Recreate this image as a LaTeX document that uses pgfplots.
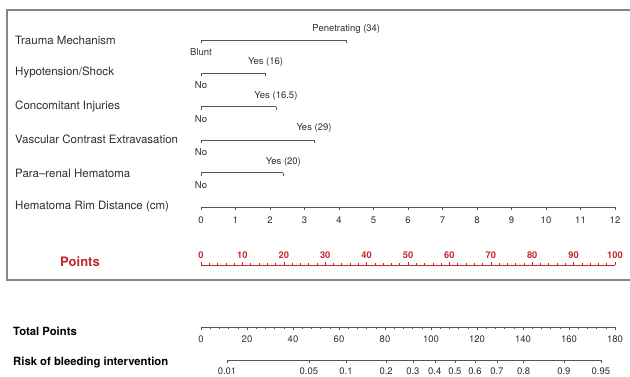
\documentclass[border=0pt]{standalone}
\usepackage{fontspec}
\setmainfont{TeX Gyre Heros}
\usepackage{pgfplots}
\pgfplotsset{compat=1.18}
\definecolor{txt}{HTML}{2E2E2E}
\definecolor{ln}{HTML}{555555}
\definecolor{ptred}{HTML}{C0282D}
\definecolor{boxc}{HTML}{858585}

\pgfdeclareplotmark{dtick}{\pgfpathmoveto{\pgfqpoint{0pt}{0pt}}\pgfpathlineto{\pgfqpoint{0pt}{-3pt}}\pgfusepathqstroke}

\pgfplotsset{
  nomo/.style={scale only axis, height=10pt, ymin=0, ymax=1,
    axis y line=none,
    tick style={draw=ln, line width=0.6pt},
    major tick length=3pt, minor tick length=2pt, clip=false,
    /pgf/number format/assume math mode=true,
    tick label style={font=\fontsize{9.5}{11}\selectfont, text=txt},
    scaled x ticks=false},
  noarrow/.style={x axis line style={-, draw=#1, line width=0.7pt},
    every outer x axis line/.append style={-},
    every inner x axis line/.append style={-}},
}
\tikzset{smalllab/.style={font=\fontsize{9.5}{11}\selectfont, text=txt}}

\begin{document}
\begin{tikzpicture}
\useasboundingbox (0,0) rectangle (630pt,376pt);
\draw[boxc, line width=1.5pt] (7pt,366pt) rectangle (640pt,96pt);

% row labels
\begin{scope}[every node/.style={anchor=west, inner sep=0pt, font=\fontsize{11.5}{13}\selectfont, text=txt}]
\node at (15pt,336pt) {Trauma Mechanism};
\node at (15pt,303.5pt) {Hypotension/Shock};
\node at (15pt,269.5pt) {Concomitant Injuries};
\node at (15pt,236.5pt) {Vascular Contrast Extravasation};
\node at (15pt,202.5pt) {Para--renal Hematoma};
\node at (15pt,169pt) {Hematoma Rim Distance (cm)};
\end{scope}
\node[font=\bfseries\fontsize{13}{15}\selectfont, text=ptred] at (80pt,114pt) {Points};
\node[anchor=west, inner sep=0pt, font=\bfseries\fontsize{11.3}{13}\selectfont, text=black] at (13pt,45pt) {Total Points};
\node[anchor=west, inner sep=0pt, font=\bfseries\fontsize{11.3}{13}\selectfont, text=black] at (13pt,13pt) {Risk of bleeding intervention};

% categorical predictors (x in points, y in pixel rows)
\begin{axis}[scale only axis, width=414pt, height=376pt, at={(201pt,0pt)}, anchor=south west,
  xmin=0, xmax=100, ymin=0, ymax=376, y dir=reverse, hide axis, clip=false]
\addplot[ln, line width=0.7pt, mark=dtick, mark options={solid, line width=0.6pt}] coordinates {(0,40) (35.1,40)};
\addplot[ln, line width=0.7pt, mark=dtick, mark options={solid, line width=0.6pt}] coordinates {(0,73) (15.6,73)};
\addplot[ln, line width=0.7pt, mark=dtick, mark options={solid, line width=0.6pt}] coordinates {(0,106.7) (18.1,106.7)};
\addplot[ln, line width=0.7pt, mark=dtick, mark options={solid, line width=0.6pt}] coordinates {(0,140) (27.3,140)};
\addplot[ln, line width=0.7pt, mark=dtick, mark options={solid, line width=0.6pt}] coordinates {(0,172.5) (19.9,172.5)};
\node[smalllab] at (axis cs:35.1,29.5) {Penetrating (34)};
\node[smalllab] at (axis cs:0,52.5) {Blunt};
\node[smalllab] at (axis cs:15.6,62) {Yes (16)};
\node[smalllab] at (axis cs:0,85.5) {No};
\node[smalllab] at (axis cs:18.1,95.7) {Yes (16.5)};
\node[smalllab] at (axis cs:0,119) {No};
\node[smalllab] at (axis cs:27.3,128.5) {Yes (29)};
\node[smalllab] at (axis cs:0,152.5) {No};
\node[smalllab] at (axis cs:19.9,162.5) {Yes (20)};
\node[smalllab] at (axis cs:0,185.5) {No};
\end{axis}

% Hematoma rim distance
\begin{axis}[nomo, width=414pt, at={(201pt,169pt)}, anchor=south west,
  xmin=0, xmax=12, xtick={0,1,...,12}, axis x line=bottom, xtick align=outside,
  noarrow=ln, xticklabel style={yshift=-3.5pt}]
\end{axis}

% Points
\begin{axis}[nomo, width=414pt, at={(201pt,111pt)}, anchor=north west,
  xmin=0, xmax=100, xtick={0,10,...,100}, minor x tick num=4,
  axis x line=top, xtick align=outside, noarrow=ptred,
  tick style={draw=ptred, line width=0.6pt},
  xticklabel style={font=\bfseries\fontsize{9.3}{11}\selectfont, text=ptred, yshift=0pt}]
\end{axis}

% Total points
\begin{axis}[nomo, width=414pt, at={(201pt,49pt)}, anchor=south west,
  xmin=0, xmax=180, xtick={0,20,...,180}, minor x tick num=4,
  axis x line=bottom, xtick align=outside, noarrow=ln, xticklabel style={yshift=-2.5pt}]
\end{axis}

% Risk (x = log-odds)
\begin{axis}[nomo, width=373.9pt, at={(227pt,16pt)}, anchor=south west,
  xmin=-4.595, xmax=2.944,
  xtick={-4.595,-2.944,-2.197,-1.386,-0.847,-0.405,0,0.405,0.847,1.386,2.197,2.944},
  xticklabels={0.01,0.05,0.1,0.2,0.3,0.4,0.5,0.6,0.7,0.8,0.9,0.95},
  axis x line=bottom, xtick align=outside, noarrow=ln, xticklabel style={yshift=-1.5pt}]
\end{axis}
\end{tikzpicture}
\end{document}
